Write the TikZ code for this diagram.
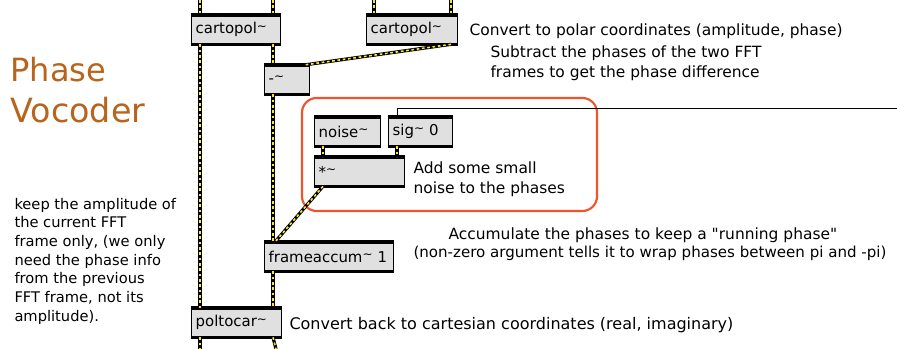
\documentclass[tikz,border=0pt]{standalone}
\usepackage{fontspec}
\setmainfont{DejaVu Sans}
\usetikzlibrary{calc}

\definecolor{vocbrown}{RGB}{184,100,28}
\definecolor{groupred}{RGB}{240,84,44}
\definecolor{cordyellow}{RGB}{250,232,40}
\definecolor{boxgray}{RGB}{224,224,224}

\newcommand{\mtilde}{\raisebox{0.45ex}{\small\textasciitilde}}
\newcommand{\dq}{\textquotedbl}

\tikzset{every picture/.style={line width=0.75pt}}
\tikzset{
  maxobj/.style={draw, line width=1pt, fill=boxgray, anchor=north west,
    inner xsep=3pt, inner ysep=0pt, minimum height=21pt, text width=#1,
    align=left, font=\fontsize{11.2}{13}\selectfont},
  sigcord/.style={line width=2.4pt, draw=black,
    postaction={draw=cordyellow, line width=1.2pt, dash pattern=on 2pt off 2pt}},
  ctlcord/.style={draw=black, line width=0.75pt},
  comment/.style={anchor=west, inner sep=0pt, align=left,
    font=\fontsize{11.6}{15}\selectfont},
}

\begin{document}
\begin{tikzpicture}[x=0.75pt,y=0.75pt,yscale=-1,xscale=1]
\path[use as bounding box, fill=white] (0,0) rectangle (897,349);

% Title
\node[anchor=base west, inner sep=0pt, text=vocbrown, font=\fontsize{24}{30}\selectfont] (title1) at (10,82) {Phase};
\node[anchor=base west, inner sep=0pt, text=vocbrown, font=\fontsize{25}{30}\selectfont] (title2) at (10,123) {Vocoder};

% Group
\draw[groupred, line width=1.6pt, rounded corners=11pt] (302,98) rectangle (597,211);

% Text Node
\node[maxobj=60.75pt] (cartA) at (191,15) {cartopol\mtilde};
% Text Node
\node[maxobj=62.25pt] (cartB) at (366,15) {cartopol\mtilde};
% Text Node
\node[maxobj=27.75pt] (minus) at (264,65) {-\mtilde};
% Text Node
\node[maxobj=43.5pt] (noise) at (314,117) {noise\mtilde};
% Text Node
\node[maxobj=42pt] (sig) at (388,117) {sig\mtilde{} 0};
% Text Node
\node[maxobj=61.5pt] (mult) at (314,157) {*\mtilde};
% Text Node
\node[maxobj=90.75pt] (accum) at (264,242) {frameaccum\mtilde{} 1};
% Text Node
\node[maxobj=61.5pt] (poltocar) at (191,308) {poltocar\mtilde};

% inlet / outlet bars
\foreach \b in {cartA,cartB,minus,noise,sig,mult,accum,poltocar} {
  \draw[line width=2.5pt] (\b.north west) -- (\b.north east);
  \draw[line width=2.5pt] (\b.south west) -- (\b.south east);
}

% Comments
\node[comment] (polarnote) at (469,31) {Convert to polar coordinates (amplitude, phase)};
\node[comment] (subnote) at (490,63) {Subtract the phases of the two FFT\\frames to get the phase difference};
\node[comment] (noisenote) at (413,179) {Add some small\\noise to the phases};
\node[comment] (accumnote) at (448,235) {Accumulate the phases to keep a \dq running phase\dq};
\node[comment, font=\fontsize{11.3}{15}\selectfont] (wrapnote) at (413,253) {(non-zero argument tells it to wrap phases between pi and -pi)};
\node[comment, font=\fontsize{12}{15}\selectfont] (cartnote) at (289,325) {Convert back to cartesian coordinates (real, imaginary)};
\node[comment, font=\fontsize{11}{14}\selectfont] (ampnote) at (14,261) {keep the amplitude of\\the current FFT\\frame only, (we only\\need the phase info\\from the previous\\FFT frame, not its\\amplitude).};

% free ends
\coordinate (inA1) at (200,0);
\coordinate (inA2) at (273,0);
\coordinate (inB1) at (374,0);
\coordinate (inB2) at (451,0);
\coordinate (out1) at (200,349);
\coordinate (out2) at (276,349);
\coordinate (sigsrc) at (897,109);

% Connection
\draw[sigcord] (inA1) -- ($(cartA.north west)+(9,0)$);
\draw[sigcord] (inA2) -- ($(cartA.north west)+(82,0)$);
\draw[sigcord] (inB1) -- ($(cartB.north west)+(8,0)$);
\draw[sigcord] (inB2) -- ($(cartB.north west)+(85,0)$);
% Connection
\draw[sigcord] ($(cartA.south west)+(9,0)$) -- ($(poltocar.north west)+(9,0)$);
\draw[sigcord] ($(cartA.south west)+(82,0)$) -- ($(minus.north west)+(9,0)$);
\draw[sigcord] ($(cartB.south west)+(85,0)$) -- ($(minus.north west)+(40,0)$);
% Connection
\draw[sigcord] ($(minus.south west)+(9,0)$) -- ($(accum.north west)+(9,0)$);
\draw[sigcord] ($(noise.south west)+(9,0)$) -- ($(mult.north west)+(9,0)$);
\draw[sigcord] ($(sig.south west)+(9,0)$) -- ($(mult.north west)+(83,0)$);
\draw[sigcord] ($(mult.south west)+(9,0)$) -- ($(accum.north west)+(11,0)$);
% Connection
\draw[sigcord] ($(accum.south west)+(9,0)$) -- ($(poltocar.north west)+(82,0)$);
\draw[sigcord] ($(poltocar.south west)+(9,0)$) -- (out1);
\draw[sigcord] ($(poltocar.south west)+(82,0)$) -- (out2);
% Connection
\draw[ctlcord] (sigsrc) -| ($(sig.north west)+(9,0)$);

\end{tikzpicture}
\end{document}
